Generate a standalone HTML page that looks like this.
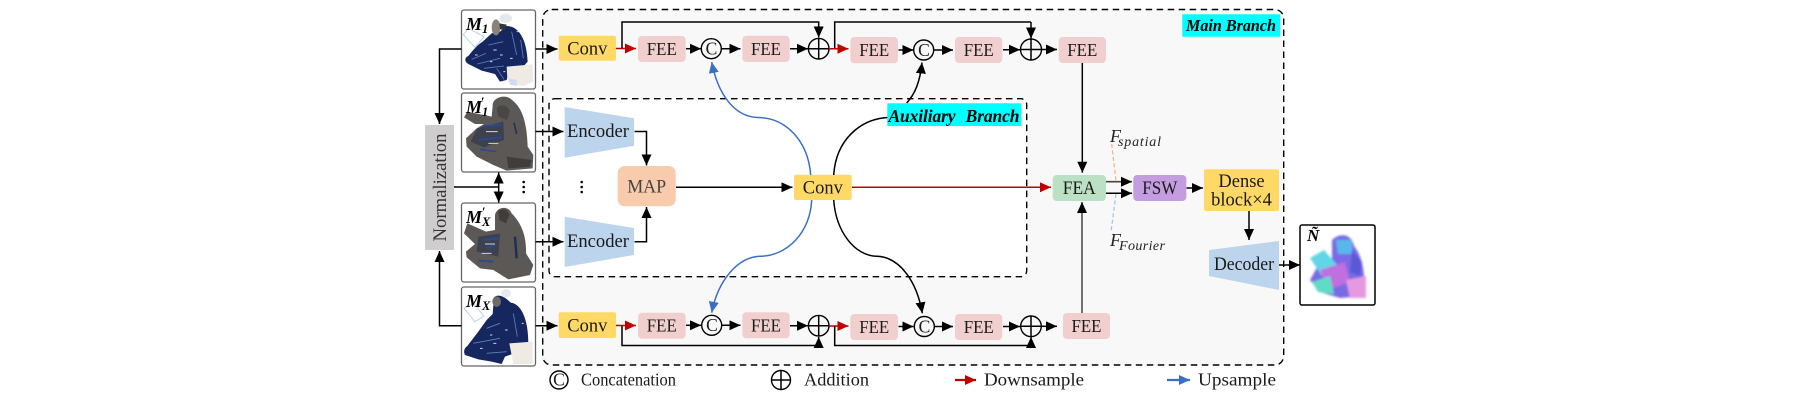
<!DOCTYPE html>
<html>
<head>
<meta charset="utf-8">
<style>
html,body{margin:0;padding:0;background:#fff;width:1800px;height:400px;overflow:hidden}
svg{display:block;filter:blur(.3px)}
text{font-family:"Liberation Serif",serif;fill:#1a1a1a}
.t{font-size:17.5px;text-anchor:middle}
.w{font-size:18.5px;text-anchor:middle}
.l{font-size:18px}
.i{font-style:italic;font-weight:bold;fill:#000}
.m{font-style:italic;font-weight:bold;font-size:18px;fill:#000}
.s{font-style:italic;font-weight:bold;font-size:12.5px;fill:#000}
.f{font-style:italic;font-size:18px;fill:#222}
.fs{font-style:italic;font-size:14px;fill:#222}
.a{stroke:#000;stroke-width:1.5;fill:none;marker-end:url(#k)}
.n{stroke:#000;stroke-width:1.5;fill:none}
.r{stroke:#c00000;stroke-width:1.5;fill:none;marker-end:url(#rd)}
.b{stroke:#3a70c4;stroke-width:1.5;fill:none;marker-end:url(#bl)}
.thumb{fill:#fff;stroke:#666;stroke-width:1.3}
.fee{fill:#f2cfcf}
.conv{fill:#ffd966}
.circ{fill:none;stroke:#000;stroke-width:1.4}
</style>
</head>
<body>
<svg width="1800" height="400" viewBox="0 0 1800 400" xmlns="http://www.w3.org/2000/svg">
<defs>
<marker id="k" markerUnits="userSpaceOnUse" markerWidth="12" markerHeight="11" refX="11" refY="5" orient="auto"><path d="M0 0L11 5L0 10Z" fill="#000"/></marker>
<marker id="rd" markerUnits="userSpaceOnUse" markerWidth="12" markerHeight="11" refX="11" refY="5" orient="auto"><path d="M0 0L11 5L0 10Z" fill="#c00000"/></marker>
<marker id="bl" markerUnits="userSpaceOnUse" markerWidth="12" markerHeight="11" refX="11" refY="5" orient="auto"><path d="M0 0L11 5L0 10Z" fill="#3a70c4"/></marker>
<filter id="sb" x="-5%" y="-5%" width="110%" height="110%"><feGaussianBlur stdDeviation="0.45"/></filter>
<filter id="nb" x="-5%" y="-5%" width="110%" height="110%"><feGaussianBlur stdDeviation="1"/></filter>
</defs>

<!-- main branch -->
<rect x="542.7" y="9.5" width="741" height="355.5" rx="9" fill="#f8f8f8" stroke="#000" stroke-width="1.4" stroke-dasharray="6.5 4.5"/>
<!-- aux branch -->
<rect x="549" y="98.7" width="477.7" height="178" rx="6" fill="#fff" stroke="#000" stroke-width="1.4" stroke-dasharray="6.5 4.5"/>

<!-- labels with cyan -->
<rect x="1182.3" y="14.3" width="98" height="22.4" fill="#00ffff"/>
<text class="i" x="1186" y="31" font-size="17" textLength="90" lengthAdjust="spacingAndGlyphs">Main Branch</text>

<!-- normalization -->
<rect x="425" y="125" width="29" height="125" fill="#cfcdcd"/>
<text transform="translate(446,187.5) rotate(-90)" font-size="18.5" text-anchor="middle" textLength="108" lengthAdjust="spacingAndGlyphs" style="fill:#333">Normalization</text>

<!-- thumbnails -->
<rect class="thumb" x="461.5" y="10" width="74" height="79" rx="2.5"/>
<rect class="thumb" x="461.5" y="93" width="74" height="79" rx="2.5"/>
<rect class="thumb" x="461.5" y="203" width="74" height="79" rx="2.5"/>
<rect class="thumb" x="461.5" y="287" width="74" height="79" rx="2.5"/>

<!-- M1 figure -->
<g filter="url(#sb)" transform="translate(360,0) scale(.3333)">
<path d="M325 85L372 110L345 142L310 104Z" fill="#fff" stroke="#bcd3e6" stroke-width="3"/>
<path d="M440 78C475 78 500 115 503 185L490 200L450 205L440 240L420 245L405 222L365 212L325 192C312 185 314 172 325 168C340 150 352 135 368 125L395 100L420 95Z" fill="#14265f"/>
<ellipse cx="408" cy="82" rx="13" ry="24" fill="#8a8178"/>
<ellipse cx="437" cy="55" rx="19" ry="14" fill="#e4e9ee"/>
<path d="M418 70L440 74L436 90L420 88Z" fill="#30353f"/>
<path d="M440 200L518 193L520 245L490 258L450 255L442 235Z" fill="#efeae4"/>
<path d="M447 235L470 240L470 258L450 254Z" fill="#cfdcf0"/>
<path d="M335 178L378 160M352 192L420 175M372 205L432 198M455 95L470 165M410 205L432 238M385 135L430 125M482 120L490 175" stroke="#5f82bf" stroke-width="2.5" fill="none"/>
<path d="M345 165h8M400 150h10M420 165h8M450 175h8M470 95h6M390 185h7M430 215h6" stroke="#c9d6ea" stroke-width="3" fill="none"/>
</g>
<text class="m" x="466" y="30">M</text><text class="s" x="482" y="33">1</text>

<!-- M'1 figure -->
<g filter="url(#sb)" transform="translate(360,0) scale(.3333)">
<path d="M398 318C396 295 430 282 450 295C482 318 500 352 503 440L520 465L518 505L440 512L400 495L350 470L320 440L318 415L350 385L372 372L345 372L312 352L322 335L395 350Z" fill="#5c5854"/>
<path d="M352 385L430 365L432 420L372 442L332 425Z" fill="#3c404e"/>
<path d="M370 378L425 375M355 420L425 412M360 448L410 455" stroke="#2a4a96" stroke-width="5" fill="none"/>
<path d="M378 395h35M385 430h30" stroke="#cfd6e0" stroke-width="3" fill="none"/>
<path d="M462 368L470 402" stroke="#22305e" stroke-width="5"/>
<path d="M410 325C420 310 445 315 450 335L440 360L415 350Z" fill="#4a4744"/>
<path d="M440 470L515 480L510 500L445 505Z" fill="#3f3d3a"/>
</g>
<text class="m" x="466" y="113">M</text><text class="s" x="482" y="116">1</text><text x="481" y="106" font-size="13" font-weight="bold" style="fill:#000">′</text>

<!-- M'X figure -->
<g filter="url(#sb)" transform="translate(360,170) scale(.3333)">
<path d="M405 135C410 110 445 105 455 130C485 160 500 200 498 250L520 285L510 315L445 328L400 300L360 295L320 262L318 245L345 222L312 190L322 160L378 185L405 180Z" fill="#5c5854"/>
<path d="M355 200L420 190L415 260L350 245Z" fill="#3d4150"/>
<path d="M370 210L415 205M355 272L400 275M380 235L405 225" stroke="#2a4a96" stroke-width="6" fill="none"/>
<path d="M375 222h30M365 250h30" stroke="#cfd6e0" stroke-width="3" fill="none"/>
<path d="M465 200L470 265" stroke="#1f2c5c" stroke-width="7"/>
<path d="M415 125C425 112 445 118 448 135L438 160L418 150Z" fill="#403e3b"/>
</g>
<text class="m" x="466" y="223">M</text><text class="s" x="482" y="226">X</text><text x="482" y="216" font-size="13" font-weight="bold" style="fill:#000">′</text>

<!-- MX figure -->
<g filter="url(#sb)" transform="translate(390,240) scale(.3333)">
<path d="M222 205L250 190L282 228L255 245Z" fill="#fff" stroke="#bcd3e6" stroke-width="3"/>
<path d="M312 172C325 160 345 170 362 188C395 192 415 240 415 310L400 330L345 350L335 372L305 365L265 358L225 345C220 335 222 325 232 318L265 275L290 240L308 222Z" fill="#14265f"/>
<ellipse cx="348" cy="160" rx="15" ry="13" fill="#e4e9ee"/>
<ellipse cx="320" cy="185" rx="13" ry="16" fill="#6f6a66"/>
<path d="M358 310L428 305L428 372L370 372Z" fill="#efeae4"/>
<path d="M250 310L330 295M370 220L382 290M290 340L350 335M290 265L330 250" stroke="#5f82bf" stroke-width="2.5" fill="none"/>
<path d="M270 325h8M310 310h9M345 270h8M395 250h6M300 285h7" stroke="#c9d6ea" stroke-width="3" fill="none"/>
</g>
<text class="m" x="466" y="307">M</text><text class="s" x="482" y="310">X</text>

<!-- left connectors -->
<path class="a" d="M461.5 49H439.5V124"/>
<path class="a" d="M461.5 325.7H439.5V251"/>
<path class="n" d="M454 187H498.7"/>
<path class="a" d="M498.7 187V172.5"/>
<path class="a" d="M498.7 187V202.5"/>
<circle cx="523.7" cy="182" r="1.3" fill="#000"/><circle cx="523.7" cy="187" r="1.3" fill="#000"/><circle cx="523.7" cy="192" r="1.3" fill="#000"/>
<circle cx="581.7" cy="182" r="1.3" fill="#000"/><circle cx="581.7" cy="187" r="1.3" fill="#000"/><circle cx="581.7" cy="192" r="1.3" fill="#000"/>

<!-- encoders -->
<path d="M564.7 107L634 118.3V145.7L564.7 157.7Z" fill="#bdd5ec"/>
<path d="M564.7 216.7L634 228V255L564.7 267Z" fill="#bdd5ec"/>
<text class="w" x="598" y="137" textLength="62" lengthAdjust="spacingAndGlyphs">Encoder</text>
<text class="w" x="598" y="247" textLength="62" lengthAdjust="spacingAndGlyphs">Encoder</text>
<path class="a" d="M535.5 131.5H563.5"/>
<path class="a" d="M535.5 241.7H563.5"/>
<path class="a" d="M634.5 131.5H646.5V165.5"/>
<path class="a" d="M634.5 241.7H646.5V207"/>
<rect x="617.7" y="166" width="58" height="40.3" rx="7" fill="#f8cbad"/>
<text class="w" x="646.7" y="192.5" textLength="39" lengthAdjust="spacingAndGlyphs" style="fill:#444">MAP</text>
<path class="a" d="M676 187.3H792.5"/>

<!-- central conv -->
<rect x="794" y="174.7" width="57.7" height="25.3" rx="2" class="conv"/>
<text class="w" x="822.8" y="193.5" textLength="40" lengthAdjust="spacingAndGlyphs">Conv</text>
<path class="r" d="M852 187.3H1051"/>

<!-- curves -->
<path class="b" d="M810.7 175C808 140 785 117.5 758 117.5C735 117 718 95 711.7 62"/>
<path class="b" d="M811.7 200C810 232 788 256 760 256.3C738 257 718 280 711.7 312.7"/>
<path class="n" d="M833.7 175C836 140 860 119 888 117.5"/>
<path class="a" d="M906.7 103C915 94 920 82 922 62.5"/>
<path class="a" d="M833.7 200C836 232 855 256 877 256.3C900 257 917 282 922.3 313.3"/>

<rect x="887.3" y="103.3" width="134" height="22.7" fill="#00ffff"/>
<text class="i" x="888.5" y="122" font-size="17.5" textLength="131" lengthAdjust="spacing" style="word-spacing:6px">Auxiliary Branch</text>

<!-- top row -->
<rect x="558.7" y="35.7" width="57.3" height="25" rx="2" class="conv"/>
<text class="w" x="587.3" y="54.5" textLength="40" lengthAdjust="spacingAndGlyphs">Conv</text>
<path class="a" d="M535.5 49H557.5"/>
<path class="r" d="M616 48.5H636"/>
<path class="a" d="M622 48V22H818.7V37.5"/>
<rect x="638" y="36" width="47.7" height="26" rx="4" class="fee"/>
<text class="t" x="661.8" y="55" textLength="30" lengthAdjust="spacingAndGlyphs">FEE</text>
<path class="a" d="M686 48.7H701"/>
<circle class="circ" cx="711.3" cy="48.7" r="10"/>
<text class="t" x="711.5" y="54.5">C</text>
<path class="a" d="M722 48.7H740.5"/>
<rect x="742.3" y="35.7" width="47.4" height="26.3" rx="4" class="fee"/>
<text class="t" x="766" y="55" textLength="30" lengthAdjust="spacingAndGlyphs">FEE</text>
<path class="a" d="M790 48.7H808"/>
<circle class="circ" cx="818.7" cy="48.7" r="10.3"/><path class="n" d="M808.4 48.7H829M818.7 38.4V59"/>
<path class="r" d="M829 48.7H848.5"/>
<path class="n" d="M834.7 48V22H1031"/>
<path class="a" d="M1031 22V38.5"/>
<rect x="850.3" y="37" width="47.7" height="26.3" rx="4" class="fee"/>
<text class="t" x="874.2" y="56" textLength="30" lengthAdjust="spacingAndGlyphs">FEE</text>
<path class="a" d="M898.5 50H913.5"/>
<circle class="circ" cx="923.7" cy="50" r="10"/>
<text class="t" x="924" y="56">C</text>
<path class="a" d="M934 50H953"/>
<rect x="955" y="37" width="47.3" height="26" rx="4" class="fee"/>
<text class="t" x="978.7" y="56" textLength="30" lengthAdjust="spacingAndGlyphs">FEE</text>
<path class="a" d="M1003 49.7H1020"/>
<circle class="circ" cx="1031" cy="49.5" r="10.5"/><path class="n" d="M1020.5 49.5H1041.5M1031 39V60"/>
<path class="a" d="M1042 49.5H1057"/>
<rect x="1058.7" y="37" width="47.3" height="26" rx="4" class="fee"/>
<text class="t" x="1082.3" y="56" textLength="30" lengthAdjust="spacingAndGlyphs">FEE</text>
<path class="a" d="M1082.3 63V172.7"/>

<!-- bottom row -->
<rect x="558.7" y="312.3" width="57.3" height="25.7" rx="2" class="conv"/>
<text class="w" x="587.3" y="331.5" textLength="40" lengthAdjust="spacingAndGlyphs">Conv</text>
<path class="a" d="M535.5 325.7H557.5"/>
<path class="r" d="M616 325.5H636"/>
<path class="n" d="M622 325.5V345.5H818.7"/>
<path class="a" d="M818.7 345.5V337"/>
<rect x="638" y="312.7" width="47.7" height="26" rx="4" class="fee"/>
<text class="t" x="661.8" y="331.5" textLength="30" lengthAdjust="spacingAndGlyphs">FEE</text>
<path class="a" d="M686 325.3H701"/>
<circle class="circ" cx="711.7" cy="325.3" r="10"/>
<text class="t" x="712" y="331">C</text>
<path class="a" d="M722 325.3H740.5"/>
<rect x="742.3" y="312.3" width="47.4" height="26" rx="4" class="fee"/>
<text class="t" x="766" y="331.5" textLength="30" lengthAdjust="spacingAndGlyphs">FEE</text>
<path class="a" d="M790 325.7H808"/>
<circle class="circ" cx="818.7" cy="325.7" r="10.3"/><path class="n" d="M808.4 325.7H829M818.7 315.4V336"/>
<path class="r" d="M829 326H848.5"/>
<path class="n" d="M834.7 326V345.5H1031"/>
<path class="a" d="M1031 345.5V337"/>
<rect x="850.3" y="314" width="47.7" height="26" rx="4" class="fee"/>
<text class="t" x="874.2" y="333" textLength="30" lengthAdjust="spacingAndGlyphs">FEE</text>
<path class="a" d="M898.5 326.5H913.5"/>
<circle class="circ" cx="924.3" cy="326.5" r="10"/>
<text class="t" x="924.5" y="332.5">C</text>
<path class="a" d="M934.5 326.5H953"/>
<rect x="955" y="314" width="47.3" height="26" rx="4" class="fee"/>
<text class="t" x="978.7" y="333" textLength="30" lengthAdjust="spacingAndGlyphs">FEE</text>
<path class="a" d="M1003 326.5H1020"/>
<circle class="circ" cx="1031" cy="326.3" r="10.3"/><path class="n" d="M1020.7 326.3H1041.3M1031 316V336.6"/>
<path class="a" d="M1042 326.3H1057"/>
<rect x="1063" y="313" width="47" height="26" rx="4" class="fee"/>
<text class="t" x="1086.5" y="332" textLength="30" lengthAdjust="spacingAndGlyphs">FEE</text>
<path d="M1082 313V202" stroke="#444" stroke-width="1.5" fill="none" marker-end="url(#k)"/>

<!-- FEA and right -->
<rect x="1052.7" y="175" width="53.3" height="26" rx="4" fill="#bce0c3"/>
<text class="w" x="1079.3" y="194" textLength="33" lengthAdjust="spacingAndGlyphs">FEA</text>
<path d="M1106 181.7H1132" stroke="#444" stroke-width="1.6" fill="none" marker-end="url(#k)"/>
<path class="a" d="M1106 193.3H1132"/>
<rect x="1133.3" y="175" width="53" height="26" rx="4" fill="#c39de0"/>
<text class="w" x="1159.8" y="194" textLength="35" lengthAdjust="spacingAndGlyphs">FSW</text>
<path class="a" d="M1186.5 188H1203"/>
<rect x="1204" y="169.3" width="75" height="41.7" rx="2" class="conv"/>
<text class="w" x="1241.5" y="187">Dense</text>
<text class="w" x="1241.5" y="205.5">block×4</text>
<path class="a" d="M1249 211V240"/>
<path d="M1209 250L1279 241V290L1209 276Z" fill="#bdd5ec"/>
<text class="w" x="1244" y="270" textLength="60" lengthAdjust="spacingAndGlyphs">Decoder</text>
<path class="a" d="M1279 265H1300"/>

<path d="M1111.7 144L1116 181" stroke="#f4b183" stroke-width="1.2" stroke-dasharray="4 2.5" fill="none"/>
<path d="M1116 194L1111 231.7" stroke="#9dc3e6" stroke-width="1.2" stroke-dasharray="4 2.5" fill="none"/>
<text class="f" x="1110" y="142">F</text><text class="fs" x="1118" y="146" textLength="43">spatial</text>
<text class="f" x="1110" y="246">F</text><text class="fs" x="1119" y="250" textLength="46">Fourier</text>

<!-- output -->
<rect x="1300" y="225" width="75" height="80" rx="2" fill="#fff" stroke="#000" stroke-width="1.5"/>
<g filter="url(#nb)">
<path d="M1332 240C1340 232 1352 234 1354 246C1362 255 1366 275 1364 296L1340 298L1320 292L1310 280L1320 262L1332 258Z" fill="#7a6be6"/>
<path d="M1310 258L1324 250L1338 266L1322 276Z" fill="#62d6e6"/>
<path d="M1336 240L1352 240L1352 254L1338 254Z" fill="#58b8ec"/>
<path d="M1320 270L1345 262L1350 282L1328 290Z" fill="#c06ee0"/>
<path d="M1312 282L1330 276L1334 294L1318 292Z" fill="#5fdcc8"/>
<path d="M1346 280L1366 276L1366 298L1350 298Z" fill="#e59adf"/>
<path d="M1352 250L1362 262L1360 276L1350 272Z" fill="#5a58d8"/>
</g>
<text x="1307" y="241" font-size="17" font-weight="bold" font-style="italic" style="fill:#000">Ñ</text>

<!-- legend -->
<circle class="circ" cx="559" cy="380" r="9"/>
<text class="t" x="559" y="385.5">C</text>
<text class="l" x="581" y="385.5" textLength="95" lengthAdjust="spacingAndGlyphs">Concatenation</text>
<circle class="circ" cx="781" cy="380" r="9.5"/><path class="n" d="M771.5 380H790.5M781 370.5V389.5"/>
<text class="l" x="804" y="385.5" textLength="65" lengthAdjust="spacingAndGlyphs">Addition</text>
<path d="M955 380H976" stroke="#c00000" stroke-width="2.2" fill="none" marker-end="url(#rd)"/>
<text class="l" x="984" y="385.5" textLength="100" lengthAdjust="spacingAndGlyphs">Downsample</text>
<path d="M1167 380H1190" stroke="#3a70c4" stroke-width="2.2" fill="none" marker-end="url(#bl)"/>
<text class="l" x="1198" y="385.5" textLength="78" lengthAdjust="spacingAndGlyphs">Upsample</text>
</svg>
</body>
</html>
